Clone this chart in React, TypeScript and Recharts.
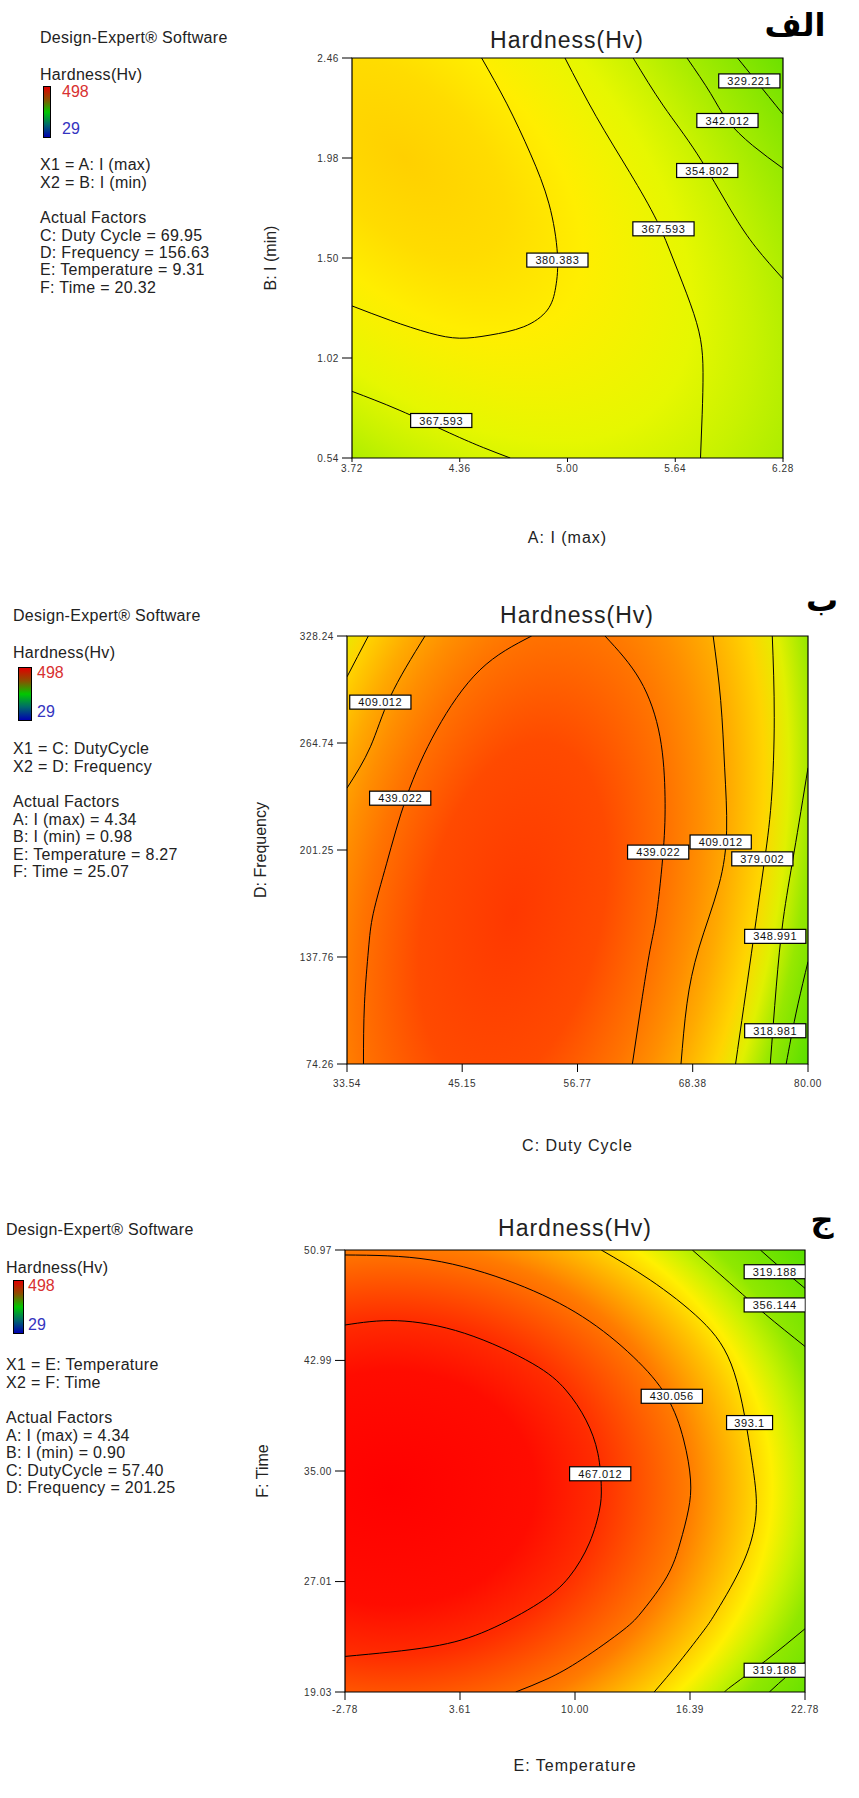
import { ComposedChart, Line, Scatter, XAxis, YAxis, ReferenceArea } from "recharts";

const FONT = "'Liberation Sans', Arial, sans-serif";

// ---------- panel A (الف): A: I (max) vs B: I (min) ----------
const aXTicks = [3.72, 4.36, 5.0, 5.64, 6.28];
const aYTicks = [0.54, 1.02, 1.5, 1.98, 2.46];

const a380 = [
  { x: 4.49, y: 2.46 }, { x: 4.64, y: 2.24 }, { x: 4.78, y: 2.0 }, { x: 4.89, y: 1.76 },
  { x: 4.94, y: 1.52 }, { x: 4.93, y: 1.36 }, { x: 4.88, y: 1.25 }, { x: 4.74, y: 1.17 },
  { x: 4.54, y: 1.13 }, { x: 4.36, y: 1.115 }, { x: 4.18, y: 1.14 }, { x: 3.95, y: 1.2 },
  { x: 3.72, y: 1.27 },
];
const a367 = [
  { x: 4.985, y: 2.46 }, { x: 5.17, y: 2.18 }, { x: 5.37, y: 1.91 }, { x: 5.53, y: 1.68 },
  { x: 5.63, y: 1.49 }, { x: 5.73, y: 1.28 }, { x: 5.79, y: 1.11 }, { x: 5.805, y: 0.95 },
  { x: 5.8, y: 0.75 }, { x: 5.79, y: 0.54 },
];
const a367low = [
  { x: 3.72, y: 0.86 }, { x: 4.0, y: 0.77 }, { x: 4.3, y: 0.66 }, { x: 4.5, y: 0.59 }, { x: 4.66, y: 0.54 },
];
const a354 = [
  { x: 5.39, y: 2.46 }, { x: 5.57, y: 2.23 }, { x: 5.77, y: 2.0 }, { x: 5.97, y: 1.73 },
  { x: 6.12, y: 1.55 }, { x: 6.28, y: 1.4 },
];
const a342 = [
  { x: 5.71, y: 2.46 }, { x: 5.85, y: 2.29 }, { x: 5.95, y: 2.16 }, { x: 6.1, y: 2.04 }, { x: 6.28, y: 1.93 },
];
const a329 = [{ x: 6.01, y: 2.46 }, { x: 6.12, y: 2.35 }, { x: 6.28, y: 2.19 }];

const aLabels = [
  { x: 6.08, y: 2.35, text: "329.221" },
  { x: 5.95, y: 2.16, text: "342.012" },
  { x: 5.83, y: 1.92, text: "354.802" },
  { x: 5.57, y: 1.64, text: "367.593" },
  { x: 4.94, y: 1.49, text: "380.383" },
  { x: 4.25, y: 0.72, text: "367.593" },
];

// ---------- panel B (ب): C: Duty Cycle vs D: Frequency ----------
const bXTicks = [33.54, 45.15, 56.77, 68.38, 80.0];
const bYTicks = [74.26, 137.76, 201.25, 264.74, 328.24];

const b439left = [
  { x: 52.15, y: 328.24 }, { x: 46.94, y: 308.1 }, { x: 42.57, y: 272.5 }, { x: 39.55, y: 232.9 },
  { x: 37.54, y: 193.4 }, { x: 36.19, y: 163.7 }, { x: 35.7, y: 141.9 }, { x: 35.3, y: 110 },
  { x: 35.2, y: 74.26 },
];
const b439right = [
  { x: 59.54, y: 328.24 }, { x: 63.07, y: 302.1 }, { x: 65.08, y: 268.5 }, { x: 65.59, y: 232.9 },
  { x: 65.42, y: 201.2 }, { x: 64.75, y: 163.7 }, { x: 64.08, y: 142 }, { x: 63.2, y: 110 },
  { x: 62.3, y: 74.26 },
];
const b409left = [
  { x: 41.4, y: 328.24 }, { x: 37.9, y: 292.2 }, { x: 35.9, y: 262.5 }, { x: 33.54, y: 238 },
];
const b409right = [
  { x: 70.44, y: 328.24 }, { x: 71.2, y: 290 }, { x: 71.6, y: 250 }, { x: 71.8, y: 213 },
  { x: 71.0, y: 180 }, { x: 69.0, y: 143 }, { x: 67.8, y: 110 }, { x: 67.2, y: 74.26 },
];
const b379corner = [{ x: 35.69, y: 328.24 }, { x: 34.6, y: 316 }, { x: 33.54, y: 304 }];
const b379right = [
  { x: 76.4, y: 328.24 }, { x: 76.6, y: 280 }, { x: 76.3, y: 230 }, { x: 75.5, y: 190 },
  { x: 74.3, y: 140 }, { x: 72.7, y: 74.26 },
];
const b349 = [
  { x: 80.0, y: 250 }, { x: 78.6, y: 200 }, { x: 77.5, y: 160 }, { x: 76.8, y: 120 }, { x: 76.2, y: 74.26 },
];
const b319 = [{ x: 80.0, y: 135 }, { x: 79.0, y: 110 }, { x: 78.3, y: 90 }, { x: 77.8, y: 74.26 }];

const bLabels = [
  { x: 36.9, y: 289, text: "409.012" },
  { x: 38.9, y: 232, text: "439.022" },
  { x: 64.9, y: 200, text: "439.022" },
  { x: 71.2, y: 206, text: "409.012" },
  { x: 75.4, y: 196, text: "379.002" },
  { x: 76.7, y: 150, text: "348.991" },
  { x: 76.7, y: 94, text: "318.981" },
];

// ---------- panel C (ج): E: Temperature vs F: Time ----------
const cXTicks = [-2.78, 3.61, 10.0, 16.39, 22.78];
const cYTicks = [19.03, 27.01, 35.0, 42.99, 50.97];

const c467 = [
  { x: -2.78, y: 45.55 }, { x: 0.13, y: 45.86 }, { x: 3.87, y: 44.95 }, { x: 7.62, y: 42.78 },
  { x: 9.49, y: 40.85 }, { x: 10.61, y: 38.68 }, { x: 11.27, y: 36.28 }, { x: 11.46, y: 33.86 },
  { x: 11.36, y: 32.18 }, { x: 10.8, y: 29.8 }, { x: 9.68, y: 27.35 }, { x: 7.99, y: 25.45 },
  { x: 5.18, y: 23.5 }, { x: 2.0, y: 22.3 }, { x: -2.78, y: 21.6 },
];
const c430 = [
  { x: -2.78, y: 50.61 }, { x: 1.99, y: 50.25 }, { x: 6.67, y: 48.56 }, { x: 10.42, y: 46.15 },
  { x: 13.23, y: 43.26 }, { x: 15.1, y: 40.36 }, { x: 16.04, y: 37.24 }, { x: 16.42, y: 34.35 },
  { x: 16.3, y: 32.18 }, { x: 15.84, y: 29.8 }, { x: 15.1, y: 27.35 }, { x: 13.79, y: 24.95 },
  { x: 12.67, y: 23.5 }, { x: 10.4, y: 21.4 }, { x: 8.5, y: 20.0 }, { x: 6.7, y: 19.03 },
];
const c393 = [
  { x: 11.46, y: 50.97 }, { x: 14.18, y: 48.8 }, { x: 17.0, y: 45.9 }, { x: 18.85, y: 42.1 },
  { x: 19.8, y: 36.0 }, { x: 20.07, y: 32.18 }, { x: 19.41, y: 28.57 }, { x: 17.91, y: 24.95 },
  { x: 17.17, y: 23.5 }, { x: 15.8, y: 21.2 }, { x: 14.4, y: 19.03 },
];
const c356top = [{ x: 16.52, y: 50.97 }, { x: 18.85, y: 48.3 }, { x: 20.6, y: 46.3 }, { x: 22.78, y: 44.0 }];
const c356low = [{ x: 22.78, y: 23.6 }, { x: 20.6, y: 21.3 }, { x: 18.85, y: 19.6 }, { x: 18.3, y: 19.03 }];
const c319top = [{ x: 20.3, y: 50.97 }, { x: 21.5, y: 49.6 }, { x: 22.78, y: 48.2 }];
const c319low = [{ x: 20.8, y: 19.03 }, { x: 21.8, y: 20.2 }, { x: 22.78, y: 21.2 }];

const cLabels = [
  { x: 21.1, y: 49.4, text: "319.188" },
  { x: 21.1, y: 47.0, text: "356.144" },
  { x: 15.38, y: 40.4, text: "430.056" },
  { x: 19.7, y: 38.5, text: "393.1" },
  { x: 11.4, y: 34.8, text: "467.012" },
  { x: 21.1, y: 20.6, text: "319.188" },
];

function LabelBox(props: any) {
  const { cx, cy, payload } = props;
  const text: string = payload.text;
  const w = text.length * 7.6 + 8;
  return (
    <g>
      <rect x={cx - w / 2} y={cy - 7} width={w} height={14} fill="#fff" stroke="#000" strokeWidth={1.2} />
      <text x={cx} y={cy + 4} textAnchor="middle" fontSize={11} fontFamily={FONT} fill="#111" letterSpacing={0.6}>
        {text}
      </text>
    </g>
  );
}

function Panel({
  top, height, margin, xAxisHeight, xTicks, yTicks, lines, labels, grad, xLabel, yLabel, xLabelOffset, yLabelOffset, tickSize, tickGap,
}: any) {
  const xd = [xTicks[0], xTicks[xTicks.length - 1]];
  const yd = [yTicks[0], yTicks[yTicks.length - 1]];
  return (
    <div style={{ position: "absolute", left: 0, top }}>
      <ComposedChart width={859} height={height} margin={margin}>
        <XAxis
          type="number" dataKey="x" domain={xd} ticks={xTicks} allowDataOverflow interval={0}
          height={xAxisHeight} axisLine={false} tickSize={tickSize} tickMargin={tickGap}
          tickLine={{ stroke: "#000" }}
          tickFormatter={(v: number) => v.toFixed(2)}
          tick={{ fontSize: 10, fill: "#333", fontFamily: FONT, letterSpacing: 0.6 }}
          label={{ value: xLabel, position: "insideBottom", offset: xLabelOffset, style: { fontSize: 16, fill: "#222", fontFamily: FONT, letterSpacing: 1 } }}
        />
        <YAxis
          type="number" dataKey="y" domain={yd} ticks={yTicks} allowDataOverflow interval={0}
          width={100} axisLine={false} tickSize={10} tickMargin={3}
          tickLine={{ stroke: "#000" }}
          tickFormatter={(v: number) => v.toFixed(2)}
          tick={{ fontSize: 10, fill: "#333", fontFamily: FONT, letterSpacing: 0.6 }}
          label={{ value: yLabel, angle: -90, position: "insideLeft", offset: yLabelOffset, style: { textAnchor: "middle", fontSize: 16, fill: "#222", fontFamily: FONT } }}
        />
        <ReferenceArea x1={xd[0]} x2={xd[1]} y1={yd[0]} y2={yd[1]} fill={`url(#${grad})`} fillOpacity={1} stroke="#000" strokeWidth={1.2} isFront={false} />
        {lines.map((pts: any[], i: number) => (
          <Line key={i} data={pts} dataKey="y" type="natural" stroke="#000" strokeWidth={1} dot={false} activeDot={false} isAnimationActive={false} />
        ))}
        <Scatter data={labels} dataKey="y" shape={LabelBox} isAnimationActive={false} />
      </ComposedChart>
    </div>
  );
}

function Legend({ left, top, lines }: { left: number; top: number[]; lines: string[] }) {
  return (
    <>
      {lines.map((t, i) => (
        <div key={i} style={{ position: "absolute", left, top: top[i] - 9, fontSize: 16, lineHeight: "18px", letterSpacing: 0.3, color: "#222", fontFamily: FONT, whiteSpace: "nowrap" }}>
          {t}
        </div>
      ))}
    </>
  );
}

function ColorBar({ x, y, w, h, textX }: any) {
  return (
    <>
      <div style={{ position: "absolute", left: x, top: y, width: w, height: h, border: "1px solid #000", background: "linear-gradient(#e00000, #8a5000 25%, #00c800 50%, #006a6a 75%, #0000b0)" }} />
      <div style={{ position: "absolute", left: textX, top: y - 3, fontSize: 16, lineHeight: "18px", color: "#d83030", fontFamily: FONT }}>498</div>
      <div style={{ position: "absolute", left: textX, top: y + h - 16, fontSize: 16, lineHeight: "18px", color: "#3434c0", fontFamily: FONT }}>29</div>
    </>
  );
}

function Title({ cx, cy, text }: any) {
  return (
    <div style={{ position: "absolute", left: cx, top: cy, transform: "translate(-50%,-50%)", fontSize: 23, letterSpacing: 1, color: "#222", fontFamily: FONT, whiteSpace: "nowrap" }}>
      {text}
    </div>
  );
}

function Tag({ cx, cy, text }: any) {
  return (
    <div dir="rtl" style={{ position: "absolute", left: cx, top: cy, transform: "translate(-50%,-50%)", fontSize: 32, fontWeight: "bold", color: "#000", fontFamily: "'DejaVu Sans', sans-serif", whiteSpace: "nowrap" }}>
      {text}
    </div>
  );
}

export default function App() {
  return (
    <div style={{ position: "absolute", left: 0, top: 0, width: 859, height: 1798, background: "#fff", overflow: "hidden" }}>
      <svg width={0} height={0} style={{ position: "absolute" }}>
        <defs>
          <radialGradient id="gA" cx={0} cy={0} r={2.6} gradientTransform="translate(0.12 0.25) skewX(26.57) scale(0.4 0.5)">
            <stop offset={0} stopColor="#ffd000" />
            <stop offset={0.5 / 2.6} stopColor="#ffdc00" />
            <stop offset={0.88 / 2.6} stopColor="#ffee00" />
            <stop offset={1.42 / 2.6} stopColor="#e6f700" />
            <stop offset={1.72 / 2.6} stopColor="#c8f200" />
            <stop offset={2.0 / 2.6} stopColor="#a8ec00" />
            <stop offset={2.3 / 2.6} stopColor="#88e600" />
            <stop offset={1} stopColor="#68e000" />
          </radialGradient>
          <radialGradient id="gB" cx={0} cy={0} r={2.3} gradientTransform="translate(0.36 0.65) skewX(-8.53) scale(0.325 0.67)">
            <stop offset={0} stopColor="#ff3800" />
            <stop offset={0.6 / 2.3} stopColor="#ff4a00" />
            <stop offset={1.0 / 2.3} stopColor="#ff7400" />
            <stop offset={1.2 / 2.3} stopColor="#ff8e00" />
            <stop offset={1.38 / 2.3} stopColor="#ffaa00" />
            <stop offset={1.6 / 2.3} stopColor="#ffd400" />
            <stop offset={1.76 / 2.3} stopColor="#e0f000" />
            <stop offset={1.92 / 2.3} stopColor="#98e800" />
            <stop offset={1} stopColor="#40dc00" />
          </radialGradient>
          <radialGradient id="gC" cx={0} cy={0} r={2.5} gradientTransform="translate(0.1 0.538) scale(0.448 0.379)">
            <stop offset={0} stopColor="#ff0000" />
            <stop offset={0.7 / 2.5} stopColor="#ff0c00" />
            <stop offset={1.0 / 2.5} stopColor="#ff2c00" />
            <stop offset={1.45 / 2.5} stopColor="#ff7c00" />
            <stop offset={1.72 / 2.5} stopColor="#ffc800" />
            <stop offset={1.85 / 2.5} stopColor="#fff000" />
            <stop offset={1.98 / 2.5} stopColor="#c8f200" />
            <stop offset={2.12 / 2.5} stopColor="#90e800" />
            <stop offset={1} stopColor="#50de00" />
          </radialGradient>
        </defs>
      </svg>

      {/* panel A */}
      <Legend left={40} top={[38, 75, 165, 183, 218, 236, 253, 270, 288]} lines={[
        "Design-Expert® Software", "Hardness(Hv)", "X1 = A: I (max)", "X2 = B: I (min)", "Actual Factors",
        "C: Duty Cycle = 69.95", "D: Frequency = 156.63", "E: Temperature = 9.31", "F: Time = 20.32",
      ]} />
      <ColorBar x={43} y={86} w={6} h={50} textX={62} />
      <Title cx={567} cy={40} text="Hardness(Hv)" />
      <Tag cx={795} cy={25} text="الف" />
      <Panel top={0} height={558} margin={{ top: 58, right: 76, bottom: 0, left: 252 }} xAxisHeight={100}
        xTicks={aXTicks} yTicks={aYTicks} grad="gA" xLabel="A: I (max)" yLabel="B: I (min)" xLabelOffset={15} yLabelOffset={18} tickSize={4} tickGap={3}
        lines={[a380, a367, a367low, a354, a342, a329]} labels={aLabels} />

      {/* panel B */}
      <Legend left={13} top={[616, 653, 749, 767, 802, 820, 837, 855, 872]} lines={[
        "Design-Expert® Software", "Hardness(Hv)", "X1 = C: DutyCycle", "X2 = D: Frequency", "Actual Factors",
        "A: I (max) = 4.34", "B: I (min) = 0.98", "E: Temperature = 8.27", "F: Time = 25.07",
      ]} />
      <ColorBar x={18} y={667} w={12} h={52} textX={37} />
      <Title cx={577} cy={615} text="Hardness(Hv)" />
      <Tag cx={822} cy={600} text="ب" />
      <Panel top={578} height={586} margin={{ top: 58, right: 51, bottom: 0, left: 247 }} xAxisHeight={100}
        xTicks={bXTicks} yTicks={bYTicks} grad="gB" xLabel="C: Duty Cycle" yLabel="D: Frequency" xLabelOffset={13} yLabelOffset={13} tickSize={8} tickGap={8}
        lines={[b439left, b439right, b409left, b409right, b379corner, b379right, b349, b319]} labels={bLabels} />

      {/* panel C */}
      <Legend left={6} top={[1230, 1268, 1365, 1383, 1418, 1436, 1453, 1471, 1488]} lines={[
        "Design-Expert® Software", "Hardness(Hv)", "X1 = E: Temperature", "X2 = F: Time", "Actual Factors",
        "A: I (max) = 4.34", "B: I (min) = 0.90", "C: DutyCycle = 57.40", "D: Frequency = 201.25",
      ]} />
      <ColorBar x={13} y={1280} w={9} h={52} textX={28} />
      <Title cx={575} cy={1228} text="Hardness(Hv)" />
      <Tag cx={822} cy={1220} text="ج" />
      <Panel top={1192} height={606} margin={{ top: 58, right: 54, bottom: 0, left: 245 }} xAxisHeight={106}
        xTicks={cXTicks} yTicks={cYTicks} grad="gC" xLabel="E: Temperature" yLabel="F: Time" xLabelOffset={27} yLabelOffset={17} tickSize={8} tickGap={6}
        lines={[c467, c430, c393, c356top, c356low, c319top, c319low]} labels={cLabels} />
    </div>
  );
}
